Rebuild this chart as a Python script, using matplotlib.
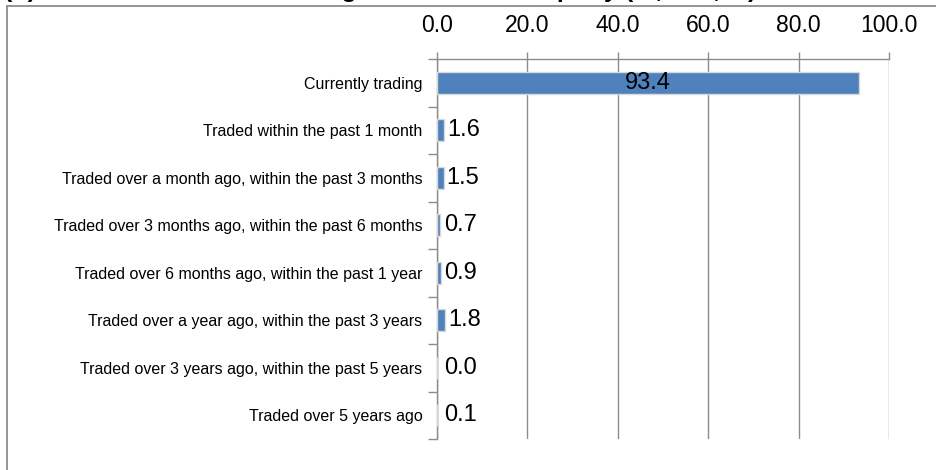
import matplotlib
matplotlib.use("Agg")
import matplotlib.pyplot as plt
from matplotlib.patches import Rectangle
from matplotlib import font_manager as fm

categories = [
    "Currently trading",
    "Traded within the past 1 month",
    "Traded over a month ago, within the past 3 months",
    "Traded over 3 months ago, within the past 6 months",
    "Traded over 6 months ago, within the past 1 year",
    "Traded over a year ago, within the past 3 years",
    "Traded over 3 years ago, within the past 5 years",
    "Traded over 5 years ago",
]
values = [93.4, 1.6, 1.5, 0.7, 0.9, 1.8, 0.0, 0.1]
xticks = [0, 20, 40, 60, 80, 100]
title = "(b) Status of business trading with the counterparty (%, n=1,24)"

names = {f.name for f in fm.fontManager.ttflist}
arial = "Liberation Sans" if "Liberation Sans" in names else "DejaVu Sans"

W, H = 936, 470
fig = plt.figure(figsize=(W / 100, H / 100), dpi=100)
fig.patch.set_facecolor("white")

# outer chart border (extends beyond the image to the right/bottom)
fig.patches.append(Rectangle((7 / W, -0.05), 1.2, 1 - 6 / H + 0.05,
                             transform=fig.transFigure, fill=False,
                             edgecolor="#8c8c8c", linewidth=1.3))

# title, clipped by the top edge as in the reference (only descenders show)
fig.text(4 / W, 1 + 3 / H, title, fontsize=18, fontweight="bold",
         family=arial, ha="left", va="baseline")

left, right, top, bottom = 437, 889, 59, 439
ax = fig.add_axes([left / W, 1 - bottom / H, (right - left) / W, (bottom - top) / H])

y = list(range(len(categories)))
ax.barh(y, values, height=0.47, color="#4F81BD",
        edgecolor="#d9d9d9", linewidth=1.0, zorder=3)

ax.set_xlim(0, 100)
ax.set_ylim(len(categories) - 0.5, -0.5)

ax.xaxis.tick_top()
ax.set_xticks(xticks)
ax.set_xticklabels([f"{v:.1f}" for v in xticks], family=arial, fontsize=16.5)
ax.tick_params(axis="x", which="major", direction="out", length=5,
               color="#8c8c8c", width=1.0, pad=10.5)
ax.grid(axis="x", color="#8c8c8c", linewidth=1.0, zorder=0)

ax.set_yticks(y)
ax.set_yticklabels(categories, family=arial, fontsize=11.5)
ax.set_yticks([i - 0.5 for i in range(len(categories) + 1)], minor=True)
ax.tick_params(axis="y", which="major", length=0, pad=10.5)
ax.tick_params(axis="y", which="minor", direction="out", length=6.5,
               color="#8c8c8c", width=1.0)

for s in ["right", "bottom"]:
    ax.spines[s].set_visible(False)
for s in ["left", "top"]:
    ax.spines[s].set_color("#8c8c8c")
    ax.spines[s].set_linewidth(1.0)

for i, v in enumerate(values):
    if v > 50:
        ax.text(v / 2, i, f"{v:.1f}", ha="center", va="center",
                family=arial, fontsize=17, color="black", zorder=4)
    else:
        ax.annotate(f"{v:.1f}", xy=(max(v, 1.0), i), xytext=(2, 0),
                    textcoords="offset points", ha="left", va="center",
                    family=arial, fontsize=17, color="black", zorder=4)

fig.savefig("out.png", dpi=100)
